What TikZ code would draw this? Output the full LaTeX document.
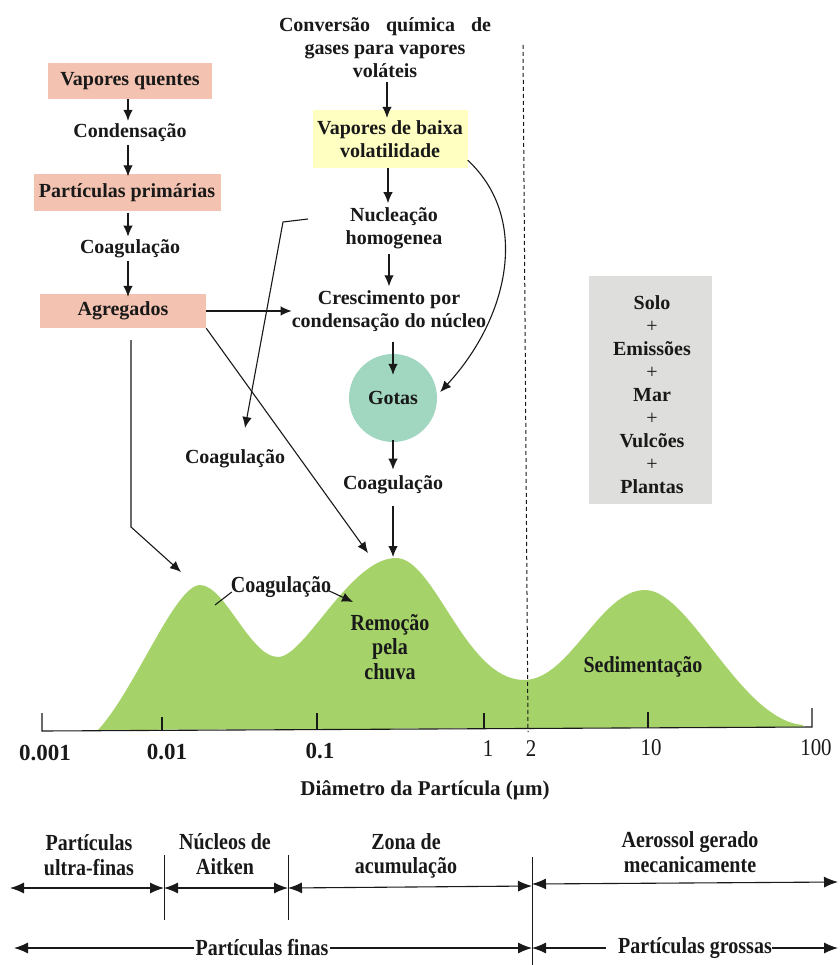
\documentclass[tikz,border=0pt]{standalone}
\usepackage{fontspec}
\setmainfont{Liberation Serif}
\newfontfamily\condfont[FakeStretch=0.87]{Liberation Serif}
\usetikzlibrary{arrows.meta,calc}
\definecolor{salmon}{RGB}{244,194,176}
\definecolor{paleyellow}{RGB}{255,255,194}
\definecolor{mint}{RGB}{161,214,192}
\definecolor{hill}{RGB}{165,210,105}
\definecolor{boxgray}{RGB}{222,222,220}
\definecolor{ink}{RGB}{25,25,25}
\begin{document}
\begin{tikzpicture}[x=1pt,y=-1pt,
  every node/.style={font=\fontsize{20}{23}\selectfont\bfseries, text=ink, inner sep=0pt, align=center},
  arr/.style={draw=ink, line width=1.1pt, -{Latex[length=11pt,width=9.5pt]}},
  barr/.style={draw=ink, line width=1.1pt, -{Latex[length=14pt,width=11pt]}},
  dbl/.style={draw=ink, line width=1.1pt, {Latex[length=14pt,width=11pt]}-{Latex[length=14pt,width=11pt]}},
  ln/.style={draw=ink, line width=1.1pt},
  pbox/.style={fill=salmon, minimum height=36pt},
  condlab/.style={font=\condfont\fontsize{23}{24.5}\selectfont\bfseries},
  ticklab/.style={font=\fontsize{23}{26}\selectfont\bfseries},
  ticklabr/.style={font=\condfont\fontsize{24}{26}\selectfont\mdseries}
]
\fill[white] (0,0) rectangle (839,965);
\useasboundingbox (0,0) rectangle (839,965);

% ---------- size distribution hill ----------
\fill[hill] (98,730) .. controls (135,690) and (175,585) .. (200,585)
  .. controls (225,585) and (250,657) .. (278,657)
  .. controls (305,657) and (350,558) .. (396,558)
  .. controls (435,558) and (465,680) .. (524,680)
  .. controls (570,680) and (600,590) .. (645,590)
  .. controls (690,590) and (740,720) .. (803,725)
  -- (803,727) -- cycle;

% dashed separator at 2 um
\coordinate (dtop) at (523,45);
\coordinate (dbot) at (528,732);
\draw[ink, line width=1pt, dash pattern=on 4pt off 3pt] (dtop) -- (dbot);

% axis
\coordinate (ax0) at (42,731);
\coordinate (ax1) at (812,727);
\draw[ln] (42,713) -- (ax0) -- (ax1) -- (812,708);
\draw[ln] (162,717) -- (162,730.4);
\draw[ln] (317,713) -- (317,729.6);
\draw[ln] (484,713) -- (484,728.7);
\draw[ln] (648,712) -- (648,727.9);
\node[ticklab] (l1) at (45,753) {0.001};
\node[ticklab] (l2) at (167,752) {0.01};
\node[ticklab] (l3) at (320,751) {0.1};
\node[ticklabr] (l4) at (488,749) {1};
\node[ticklabr] (l5) at (531,749) {2};
\node[ticklabr] (l6) at (651,748) {10};
\node[ticklabr] (l7) at (816,748) {100};
\node[font=\fontsize{21}{24}\selectfont\bfseries] (diam) at (425,790) {Diâmetro da Partícula (µm)};

% ---------- left column ----------
\node[pbox, minimum width=164pt] (vq) at (130,81) {Vapores quentes};
\node (cond) at (130,133) {Condensação};
\node[pbox, minimum width=187pt, minimum height=37pt] (pp) at (127,193) {Partículas primárias};
\node (coag1) at (130,249) {Coagulação};
\node[pbox, minimum width=166pt, minimum height=34pt] (agr) at (123,311) {Agregados};

\draw[arr] ($(vq.south)+(-2,0)$) -- ($(cond.north)+(-2,-3)$);
\draw[arr] ($(cond.south)+(-2,3)$) -- ($(pp.north)+(1,2)$);
\draw[arr] ($(pp.south)+(1,1)$) -- ($(coag1.north)+(-2,-3)$);
\draw[arr] ($(coag1.south)+(-2,3)$) -- ($(agr.north)+(5,3)$);

% ---------- right column ----------
\node (conv) at (385,48) {\makebox[212pt][s]{Conversão química de}\\gases para vapores\\voláteis};
\node[fill=paleyellow, minimum width=155pt, minimum height=58pt] (vbv) at (390,139) {Vapores de baixa\\volatilidade};
\node (nuc) at (394,228) {Nucleação\\homogenea};
\node (cresc) at (389,311) {Crescimento por\\condensação do núcleo};
\node[circle, fill=mint, minimum size=88pt] (gotas) at (393,398) {Gotas};
\node (coag3) at (393,485) {Coagulação};
\node (coag2) at (235,459) {Coagulação};

\draw[arr] ($(conv.south)+(2,4)$) -- ($(vbv.north)+(-3,8)$);
\draw[arr] ($(vbv.south)+(-2,0)$) -- ($(nuc.north)+(-6,-4)$);
\draw[arr] ($(nuc.south)+(-5,5)$) -- ($(cresc.north)+(0,-4)$);
\draw[arr] ($(cresc.south)+(4,10)$) -- ($(gotas.north)+(0,21)$);
\draw[arr] ($(gotas.south)+(0,-2)$) -- ($(coag3.north)+(0,-6)$);
\draw[arr] (agr.east) -- (agr.east -| cresc.west);

% nucleation -> coagulation
\coordinate (nucl) at (308,219);
\coordinate (nuck) at (283,222);
\coordinate (c2tip) at (245,428);
\draw[arr] (nucl) -- (nuck) -- (c2tip);

% vapours -> drops
\draw[arr] ($(vbv.south east)+(0,-8)$) .. controls (532,220) and (507,320) .. ($(gotas.east)+(3,-6)$);

% aggregates -> hill
\coordinate (p1tip) at (181,572);
\coordinate (p2ltip) at (368,553);
\coordinate (p2tip) at (393,557);
\draw[arr] ($(agr.south)+(8,12)$) -- (131,527) -- (p1tip);
\draw[arr] (agr.south east) -- (p2ltip);
\draw[arr] ($(coag3.south)+(0,12)$) -- (p2tip);

% ---------- hill labels ----------
\node[condlab] (coag4) at (281,587) {Coagulação};
\coordinate (c4a) at (215,605);
\coordinate (c4b) at (353,602);
\draw[ln] ($(coag4.west)+(1,5)$) -- (c4a);
\draw[arr] ($(coag4.east)+(-4,3)$) -- (c4b);
\node[condlab] (remo) at (390,647) {Remoção\\pela\\chuva};
\node[condlab] (sed) at (643,667) {Sedimentação};

% ---------- sources box ----------
\node[fill=boxgray, minimum width=123pt, minimum height=227pt] (src) at (650,390) {};
\node (srct) at (652,395)
  {Solo\\{\mdseries +}\\Emissões\\{\mdseries +}\\Mar\\{\mdseries +}\\Vulcões\\{\mdseries +}\\Plantas};

% ---------- size ranges ----------
\node[condlab] (uf) at (89,855) {Partículas\\ultra-finas};
\node[condlab] (ai) at (225,854) {Núcleos de\\Aitken};
\node[condlab] (za) at (406,856) {Zona de\\acumulação};
\node[condlab] (am) at (690,852) {Aerossol gerado\\mecanicamente};

\coordinate (s1t) at (164,855); \coordinate (s1b) at (164,920);
\coordinate (s2t) at (288,855); \coordinate (s2b) at (288,920);
\coordinate (s3t) at (532,857); \coordinate (s3b) at (532,965);
\draw[ln, line width=0.9pt] (s1t) -- (s1b);
\draw[ln, line width=0.9pt] (s2t) -- (s2b);
\draw[ln, line width=0.9pt] (s3t) -- (s3b);

\coordinate (r0) at (10,888);
\coordinate (r1) at (164,888);
\coordinate (r2) at (288,888);
\coordinate (r3) at (532,886);
\coordinate (r3b) at (532,884);
\coordinate (r4) at (838,882);
\draw[dbl] (r0) -- (r1);
\draw[dbl] (r1) -- (r2);
\draw[dbl] (r2) -- (r3);
\draw[dbl] (r3b) -- (r4);

\node[condlab] (pf) at (262,948) {Partículas finas};
\node[condlab] (pg) at (695,948) {Partículas grossas};
\coordinate (f0) at (14,948);
\coordinate (f1) at (532,948);
\coordinate (g1) at (838,948);
\draw[barr] ($(pf.west)+(-1,0)$) -- (f0);
\draw[barr] ($(pf.east)+(1,0)$) -- (f1);
\draw[barr] ($(pg.west)+(-12,0)$) -- (f1);
\draw[barr] (pg.east) -- (g1);
\end{tikzpicture}
\end{document}
